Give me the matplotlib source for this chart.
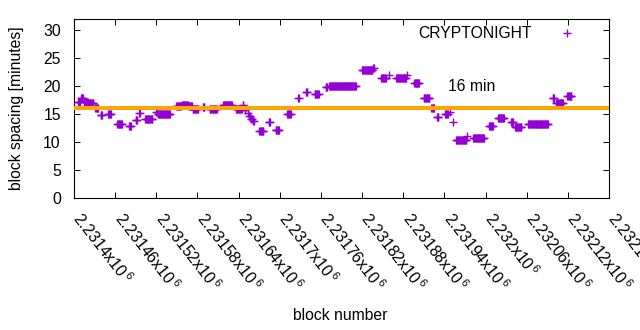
import numpy as np
import matplotlib
matplotlib.use("Agg")
import matplotlib.pyplot as plt
from matplotlib.transforms import ScaledTranslation

plt.rcParams['font.family'] = ['Liberation Sans', 'DejaVu Sans']
plt.rcParams['mathtext.fontset'] = 'custom'
plt.rcParams['mathtext.rm'] = 'Liberation Sans'
plt.rcParams['mathtext.it'] = 'Liberation Sans:italic'

# runs of blocks sharing the same block spacing (minutes)
run_start = [2231406, 2231410, 2231415, 2231422, 2231431, 2231439, 2231450, 2231463,
             2231480, 2231490, 2231495, 2231504, 2231520, 2231522, 2231549, 2231557,
             2231567, 2231573, 2231588, 2231598, 2231617, 2231636, 2231646, 2231649,
             2231654, 2231655, 2231658, 2231661, 2231670, 2231684, 2231694, 2231711,
             2231727, 2231738, 2231751, 2231767, 2231772, 2231820, 2231836, 2231848,
             2231859, 2231870, 2231886, 2231896, 2231910, 2231921, 2231929, 2231941,
             2231948, 2231953, 2231957, 2231973, 2231982, 2232005, 2232018, 2232037,
             2232043, 2232062, 2232098, 2232103, 2232119]
run_end = [2231409, 2231413, 2231420, 2231428, 2231435, 2231441, 2231454, 2231470,
           2231483, 2231492, 2231496, 2231514, 2231521, 2231540, 2231556, 2231566,
           2231572, 2231581, 2231590, 2231608, 2231630, 2231645, 2231647, 2231650,
           2231654, 2231656, 2231659, 2231662, 2231676, 2231686, 2231699, 2231716,
           2231728, 2231740, 2231757, 2231769, 2231811, 2231835, 2231837, 2231855,
           2231859, 2231884, 2231886, 2231903, 2231918, 2231925, 2231931, 2231945,
           2231948, 2231953, 2231972, 2231973, 2231998, 2232011, 2232027, 2232040,
           2232052, 2232091, 2232100, 2232113, 2232125]
run_value = [17.2, 17.8, 17.2, 16.9, 16.0, 14.8, 15.0, 13.2,
             12.9, 14.0, 15.2, 14.2, 15.3, 15.1, 16.4, 16.6,
             16.4, 15.9, 16.2, 15.9, 16.7, 15.9, 16.7, 15.7,
             15.2, 14.6, 14.2, 13.8, 12.0, 13.5, 12.2, 15.0,
             17.8, 19.0, 18.6, 19.9, 20.0, 22.9, 23.2, 21.5,
             22.0, 21.5, 22.0, 20.5, 17.9, 16.0, 14.5, 15.0,
             15.3, 13.6, 10.3, 11.0, 10.7, 12.9, 14.3, 13.6,
             12.6, 13.3, 17.8, 16.9, 18.2]

target = 16
x_ticks = [2231400 + 60 * i for i in range(14)]

blocks = np.concatenate([np.arange(s, e + 1) for s, e in zip(run_start, run_end)])
spacing = np.concatenate([np.full(e - s + 1, v) for s, e, v in zip(run_start, run_end, run_value)])

fig = plt.figure(figsize=(6.4, 3.3), dpi=100)
ax = fig.add_axes([74/640, 1-197.7/330, 535/640, 178.4/330])

ax.plot(blocks, spacing, '+', color='#9400d3', markersize=5.8, markeredgewidth=1.0,
        label='CRYPTONIGHT', zorder=2)
ax.axhline(target, color='#ffa500', linewidth=2.9, zorder=3)
ax.text(2231945, 20, '%d min' % target, fontsize=11.3, ha='left', va='center')

ax.set_xlim(2231400, 2232180)
ax.set_ylim(0, 32)
ax.set_yticks(range(0, 31, 5))
ax.set_xticks(x_ticks)
ax.set_xticklabels(['%gx10$^{\\,6}$' % (b / 1e6) for b in x_ticks],
                   rotation=-52, ha='left', va='center', rotation_mode='anchor')
ax.tick_params(direction='in', top=True, right=True, length=4, width=0.7,
               labelsize=11.3)
ax.tick_params(axis='y', pad=9.5)
ax.tick_params(axis='x', pad=12, labelsize=11.5)
shift = ScaledTranslation(3/100, 0, fig.dpi_scale_trans)
for lab in ax.get_xticklabels():
    lab.set_transform(lab.get_transform() + shift)
for s in ax.spines.values():
    s.set_linewidth(0.8)

ax.set_ylabel('block spacing [minutes]', fontsize=11.3)
ax.yaxis.set_label_coords(-0.093, 0.5)
fig.text(340/640, 1-315/330, 'block number', fontsize=11.3, ha='center', va='center')

ax.legend(loc='upper right', markerfirst=False, frameon=False, fontsize=11.3,
          handlelength=2.9, handletextpad=0.8, borderaxespad=0.3,
          bbox_to_anchor=(0.985, 1.022))

fig.savefig('out.png', dpi=100)
